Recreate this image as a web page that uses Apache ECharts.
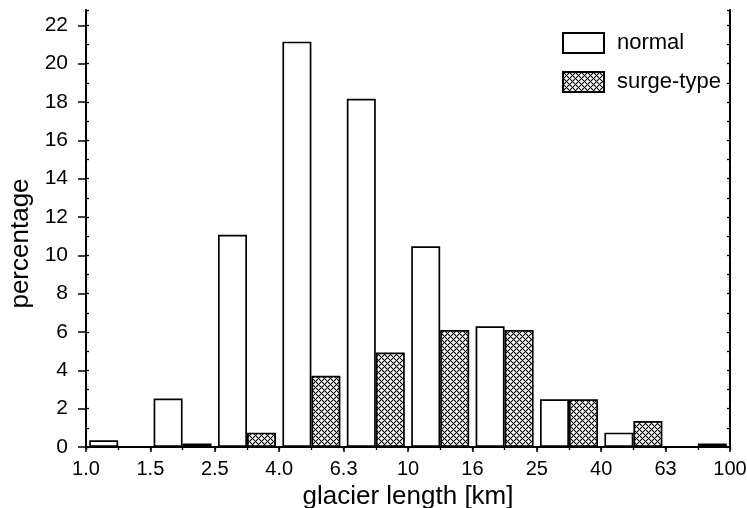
<!DOCTYPE html>
<html><head><meta charset="utf-8">
<script src="https://cdn.jsdelivr.net/npm/echarts@6/dist/echarts.min.js"></script>
<style>html,body{margin:0;padding:0;background:#fff}#c{width:747px;height:508px}</style>
</head><body><div id="c"></div>
<script>
// Bin boundaries (tick labels) and per-bin percentages
const tickLabels = ['1.0','1.5','2.5','4.0','6.3','10','16','25','40','63','100'];
const normal = [0.35, 2.53, 11.07, 21.15, 18.17, 10.47, 6.3, 2.49, 0.75, 0];
const surge  = [0, 0.18, 0.75, 3.72, 4.93, 6.1, 6.1, 2.49, 1.36, 0.18];
const seriesNames = ['normal', 'surge-type'];

function hatch(){
  const n = 6, t = 1.0, cv = document.createElement('canvas');
  cv.width = n; cv.height = n;
  const ctx = cv.getContext('2d');
  const img = ctx.createImageData(n, n);
  for (let y = 0; y < n; y++) for (let x = 0; x < n; x++) {
    const u = ((x - y) % n + n) % n, w = (x + y) % n;
    const d = Math.min(Math.min(u, n - u), Math.min(w, n - w)) / Math.SQRT2;
    const cov = Math.max(0, Math.min(1, t / 2 + 0.5 - d));
    const v = Math.round(255 * (1 - cov)), i = (y * n + x) * 4;
    img.data[i] = img.data[i+1] = img.data[i+2] = v; img.data[i+3] = 255;
  }
  ctx.putImageData(img, 0, 0);
  return cv;
}

const font = '"Liberation Sans", Arial, sans-serif';
const chart = echarts.init(document.getElementById('c'), null, {renderer: 'canvas'});
const mid = (arr) => arr.map((v, i) => [i + 0.5, v]);
chart.setOption({
  animation: false,
  backgroundColor: '#fff',
  textStyle: {fontFamily: font, color: '#000'},
  grid: {left: 86, right: 17, top: 10, bottom: 61, containLabel: false, outerBoundsMode: 'none'},
  legend: {
    orient: 'vertical', left: 557, top: 27, itemWidth: 41, itemHeight: 20, itemGap: 17,
    icon: 'rect', data: seriesNames,
    textStyle: {fontFamily: font, fontSize: 22, lineHeight: 20, color: '#000', padding: [0, 0, 0, 8]}
  },
  xAxis: [
    {type: 'value', position: 'bottom', min: 0, max: 10, interval: 1,
     name: 'glacier length [km]', nameLocation: 'middle', nameGap: 31,
     nameTextStyle: {fontFamily: font, fontSize: 26, color: '#000'},
     axisLine: {show: true, lineStyle: {color: '#000', width: 2}},
     axisTick: {show: true, inside: false, length: 5, lineStyle: {color: '#000', width: 1.5}},
     axisLabel: {fontFamily: font, fontSize: 20, color: '#000', margin: 12,
                 formatter: (v) => tickLabels[Math.round(v)] || ''},
     splitLine: {show: false}},
    {type: 'value', position: 'top', min: 0, max: 10, interval: 0.5,
     axisLine: {show: true, lineStyle: {color: '#000', width: 2}},
     axisTick: {show: true, inside: true, length: 3, lineStyle: {color: '#000', width: 1.3}},
     axisLabel: {show: false}, splitLine: {show: false}}
  ],
  yAxis: [
    {type: 'value', position: 'left', min: 0, max: 22.8, interval: 2,
     name: 'percentage', nameLocation: 'middle', nameGap: 49,
     nameTextStyle: {fontFamily: font, fontSize: 26, color: '#000', padding: [0, 30, 0, 0]},
     axisLine: {show: true, lineStyle: {color: '#000', width: 2}},
     axisTick: {show: true, inside: false, length: 8, lineStyle: {color: '#000', width: 1.5}},
     axisLabel: {fontFamily: font, fontSize: 21, color: '#000', margin: 18, showMaxLabel: false,
                 formatter: (v) => (Math.abs(v - Math.round(v)) < 1e-6 ? String(v) : '')},
     splitLine: {show: false}},
    {type: 'value', position: 'left', min: 0, max: 22.8, interval: 1,
     axisLine: {show: false},
     axisTick: {show: true, inside: true, length: 3, lineStyle: {color: '#000', width: 1.3}},
     axisLabel: {show: false}, splitLine: {show: false}},
    {type: 'value', position: 'right', min: 0, max: 22.8, interval: 1,
     axisLine: {show: true, lineStyle: {color: '#000', width: 2}},
     axisTick: {show: true, inside: true, length: 3, lineStyle: {color: '#000', width: 1.3}},
     axisLabel: {show: false}, splitLine: {show: false}}
  ],
  series: [
    {name: seriesNames[0], type: 'bar', xAxisIndex: 0, yAxisIndex: 0, data: mid(normal),
     barWidth: 29, barGap: '0%',
     itemStyle: {color: '#fff', borderColor: '#000', borderWidth: 1.7}},
    {name: seriesNames[1], type: 'bar', xAxisIndex: 0, yAxisIndex: 0, data: mid(surge),
     barWidth: 29, barGap: '0%',
     itemStyle: {color: {image: hatch(), repeat: 'repeat'}, borderColor: '#000', borderWidth: 1.7}}
  ]
});
</script></body></html>
